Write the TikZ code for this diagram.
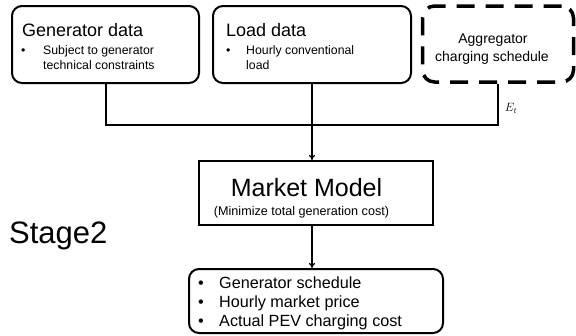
\documentclass[tikz,border=0pt]{standalone}
\usepackage{fontspec}
\setmainfont{Liberation Sans}
\usetikzlibrary{arrows.meta}
\begin{document}
\begin{tikzpicture}[x=1pt,y=-1pt,
  box/.style={draw=black, line width=2pt, rounded corners=10pt, inner sep=0pt},
  dashbox/.style={draw=black, line width=3.5pt, rounded corners=12pt, inner sep=0pt, dash pattern=on 18pt off 11pt},
  sharpbox/.style={draw=black, line width=2pt, inner sep=0pt},
  txt/.style={inner sep=0pt, anchor=base west},
  ctxt/.style={inner sep=0pt, anchor=base},
  bus/.style={line width=2pt},
  flow/.style={line width=1.3pt, -{To[length=5pt,width=6pt]}},
  fa/.style={font=\fontsize{18}{20}\selectfont},
  fb/.style={font=\fontsize{12.3}{15}\selectfont},
  fc/.style={font=\fontsize{14}{17}\selectfont},
  fd/.style={font=\fontsize{16.2}{19}\selectfont}
]
\useasboundingbox (0,0) rectangle (576,335);

% input boxes
\node[box, minimum width=187pt, minimum height=77pt] (gen) at (105.5,44.5) {};
\node[box, minimum width=198pt, minimum height=77pt] (load) at (312,44.5) {};
\node[dashbox, minimum width=151pt, minimum height=76pt] (agg) at (498,44) {};

% generator data
\node[txt, fa] (gent) at (22,36.5) {Generator data};
\node[txt, fb] (genb) at (21,54.5) {•};
\node[txt, fb] (gen1) at (43,54.5) {Subject to generator};
\node[txt, fb] (gen2) at (43,69) {technical constraints};

% load data
\node[txt, fa] (loadt) at (226,36.5) {Load data};
\node[txt, fb] (loadb) at (226,54.5) {•};
\node[txt, fb] (load1) at (246,54.5) {Hourly conventional};
\node[txt, fb] (load2) at (246,69) {load};

% aggregator
\node[ctxt, fc] (agg1) at (493,43) {Aggregator};
\node[ctxt, fc] (agg2) at (492,61.5) {charging schedule};

% joining bus
\coordinate (bl) at (106,125);
\coordinate (bm) at (312,125);
\coordinate (br) at (498,125);
\draw[bus] (gen.south -| bl) -- (bl) -- (br) -- (agg.south -| br);
\draw[bus] (load.south -| bm) -- (bm);
\node[inner sep=0pt, font=\fontsize{12}{14}\selectfont] (et) at (511,108) {$E_t$};

% market model
\node[sharpbox, minimum width=234pt, minimum height=64pt] (mkt) at (316,193) {};
\node[ctxt, font=\fontsize{25}{28}\selectfont] (mkt1) at (306.5,196) {Market Model};
\node[ctxt, font=\fontsize{12.6}{15}\selectfont] (mkt2) at (301.5,215) {(Minimize total generation cost)};
\draw[flow] (bm) -- (mkt.north -| bm);

% results
\node[box, minimum width=254pt, minimum height=64pt] (res) at (316,301) {};
\node[txt, fd] (resb1) at (198,288) {•};
\node[txt, fd] (resb2) at (198,307) {•};
\node[txt, fd] (resb3) at (198,326.5) {•};
\node[txt, fd] (res1) at (219,288) {Generator schedule};
\node[txt, fd] (res2) at (219,307) {Hourly market price};
\node[txt, fd] (res3) at (219,326.5) {Actual PEV charging cost};
\draw[flow] (mkt.south -| bm) -- (res.north -| bm);

% stage label
\node[txt, font=\fontsize{31}{34}\selectfont] (stage) at (9,243) {Stage2};
\end{tikzpicture}
\end{document}
